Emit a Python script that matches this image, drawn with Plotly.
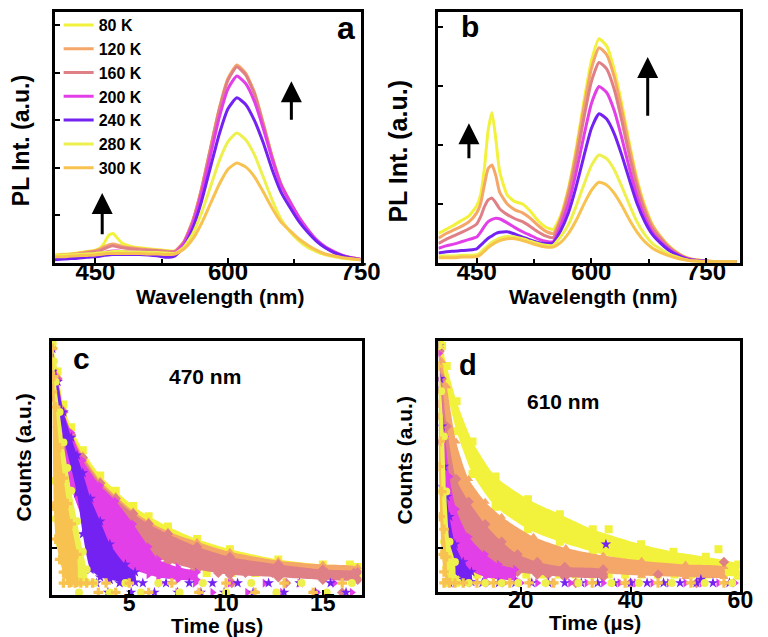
import plotly.graph_objects as go

W, H = 768, 637

TEMPS = ['80 K', '120 K', '160 K', '200 K', '240 K', '280 K', '300 K']
COLORS = ['#f2f23c', '#f5a76a', '#df7f86', '#e23fe8', '#7322f2', '#eef04e', '#f7c24f']
SYMBOLS = ['square', 'triangle-up', 'diamond', 'triangle-right', 'star', 'circle', 'cross']

# ---------------- Panel a: PL spectra (wavelength nm) ----------------
WL_A = [404, 410, 420, 430, 440, 450, 455, 460, 465, 470, 475, 480, 490, 500, 510, 520, 530,
        540, 550, 560, 570, 580, 590, 600, 610, 620, 630, 640, 650, 660, 670, 680, 690, 700,
        710, 720, 730, 740, 750]
PL_A_80K = [0.17, 0.18, 0.19, 0.21, 0.24, 0.27, 0.31, 0.42, 0.58, 0.62, 0.52, 0.42, 0.35, 0.32, 0.30, 0.28, 0.26,
            0.25, 0.44, 0.88, 1.55, 2.39, 3.22, 3.86, 4.14, 3.97, 3.57, 2.92, 2.23, 1.66, 1.29, 0.96, 0.69, 0.47,
            0.33, 0.23, 0.15, 0.11, 0.08]
PL_A_120K = [0.16, 0.17, 0.18, 0.20, 0.23, 0.26, 0.29, 0.34, 0.38, 0.40, 0.38, 0.35, 0.32, 0.30, 0.28, 0.27, 0.25,
             0.25, 0.44, 0.88, 1.56, 2.40, 3.24, 3.88, 4.16, 3.99, 3.58, 2.93, 2.24, 1.66, 1.30, 0.97, 0.70, 0.48,
             0.33, 0.23, 0.15, 0.11, 0.08]
PL_A_160K = [0.14, 0.15, 0.16, 0.18, 0.21, 0.24, 0.26, 0.30, 0.34, 0.36, 0.34, 0.32, 0.30, 0.28, 0.27, 0.26, 0.24,
             0.24, 0.44, 0.87, 1.54, 2.38, 3.21, 3.84, 4.12, 3.95, 3.55, 2.90, 2.22, 1.65, 1.28, 0.96, 0.69, 0.47,
             0.33, 0.23, 0.15, 0.11, 0.08]
PL_A_200K = [0.10, 0.11, 0.12, 0.14, 0.16, 0.18, 0.20, 0.22, 0.24, 0.25, 0.25, 0.24, 0.23, 0.23, 0.22, 0.21, 0.19,
             0.21, 0.41, 0.82, 1.46, 2.25, 3.05, 3.66, 3.93, 3.77, 3.39, 2.82, 2.18, 1.64, 1.29, 0.97, 0.71, 0.49,
             0.34, 0.24, 0.16, 0.11, 0.08]
PL_A_240K = [0.07, 0.08, 0.09, 0.10, 0.12, 0.13, 0.14, 0.16, 0.17, 0.18, 0.18, 0.18, 0.18, 0.18, 0.17, 0.15, 0.12,
             0.15, 0.34, 0.72, 1.29, 2.00, 2.70, 3.24, 3.47, 3.33, 2.99, 2.52, 1.96, 1.49, 1.17, 0.88, 0.65, 0.46,
             0.32, 0.22, 0.15, 0.10, 0.07]
PL_A_280K = [0.16, 0.16, 0.17, 0.18, 0.19, 0.20, 0.21, 0.22, 0.23, 0.24, 0.24, 0.24, 0.23, 0.23, 0.22, 0.22, 0.21,
             0.20, 0.33, 0.61, 1.05, 1.59, 2.14, 2.55, 2.73, 2.59, 2.27, 1.80, 1.32, 0.92, 0.66, 0.47, 0.33, 0.24,
             0.17, 0.13, 0.10, 0.08, 0.07]
PL_A_300K = [0.13, 0.13, 0.14, 0.15, 0.16, 0.17, 0.18, 0.19, 0.20, 0.20, 0.20, 0.20, 0.20, 0.20, 0.19, 0.19, 0.18,
             0.19, 0.29, 0.50, 0.83, 1.24, 1.65, 1.97, 2.10, 2.02, 1.81, 1.49, 1.15, 0.86, 0.68, 0.51, 0.38, 0.27,
             0.19, 0.15, 0.11, 0.09, 0.07]

# ---------------- Panel b: PL spectra ----------------
WL_B = [400, 410, 420, 430, 440, 450, 455, 460, 465, 470, 475, 480, 490, 500, 510, 520, 530, 540, 550,
        560, 570, 580, 590, 600, 610, 620, 630, 640, 650, 660, 670, 680, 690, 700, 710, 720, 730, 740, 750,
        760, 770, 780, 790]
PL_B_80K = [0.50, 0.57, 0.64, 0.72, 0.80, 0.97, 1.15, 1.60, 2.25, 2.55, 2.10, 1.55, 1.15, 1.04, 1.00, 0.88, 0.72, 0.61, 0.57,
            0.81, 1.27, 1.93, 2.72, 3.42, 3.80, 3.68, 3.27, 2.68, 2.01, 1.41, 0.97, 0.65, 0.46, 0.31, 0.20, 0.12, 0.07,
            0.05, 0.035, 0.025, 0.02, 0.02, 0.02]
PL_B_120K = [0.42, 0.50, 0.56, 0.62, 0.70, 0.85, 1.00, 1.32, 1.60, 1.66, 1.48, 1.20, 1.00, 0.90, 0.85, 0.76, 0.64, 0.54, 0.50,
             0.77, 1.23, 1.87, 2.62, 3.29, 3.65, 3.53, 3.15, 2.58, 1.94, 1.36, 0.93, 0.63, 0.45, 0.30, 0.19, 0.11, 0.07,
             0.045, 0.034, 0.025, 0.02, 0.02, 0.02]
PL_B_160K = [0.33, 0.40, 0.46, 0.52, 0.58, 0.66, 0.78, 0.95, 1.07, 1.10, 1.02, 0.92, 0.82, 0.75, 0.70, 0.62, 0.53, 0.46, 0.43,
             0.73, 1.14, 1.74, 2.44, 3.07, 3.40, 3.29, 2.94, 2.40, 1.80, 1.27, 0.87, 0.58, 0.42, 0.28, 0.18, 0.11, 0.06,
             0.045, 0.03, 0.025, 0.02, 0.02, 0.02]
PL_B_200K = [0.25, 0.29, 0.32, 0.36, 0.40, 0.44, 0.52, 0.62, 0.70, 0.74, 0.76, 0.75, 0.68, 0.60, 0.53, 0.47, 0.41, 0.37, 0.36,
             0.64, 1.00, 1.53, 2.14, 2.70, 2.99, 2.89, 2.58, 2.11, 1.59, 1.12, 0.77, 0.52, 0.37, 0.25, 0.16, 0.10, 0.06,
             0.04, 0.03, 0.025, 0.02, 0.02, 0.02]
PL_B_240K = [0.17, 0.19, 0.20, 0.21, 0.22, 0.24, 0.30, 0.36, 0.42, 0.46, 0.50, 0.52, 0.53, 0.49, 0.44, 0.39, 0.35, 0.33, 0.34,
             0.55, 0.85, 1.29, 1.80, 2.28, 2.53, 2.44, 2.19, 1.82, 1.40, 1.00, 0.70, 0.48, 0.34, 0.23, 0.15, 0.09, 0.05,
             0.04, 0.03, 0.025, 0.02, 0.02, 0.02]
PL_B_280K = [0.12, 0.12, 0.12, 0.13, 0.13, 0.14, 0.18, 0.24, 0.30, 0.35, 0.39, 0.42, 0.45, 0.44, 0.41, 0.37, 0.33, 0.30, 0.30,
             0.45, 0.65, 0.96, 1.32, 1.65, 1.83, 1.77, 1.58, 1.29, 0.98, 0.69, 0.48, 0.33, 0.24, 0.16, 0.11, 0.07, 0.04,
             0.03, 0.02, 0.02, 0.02, 0.02, 0.02]
PL_B_300K = [0.09, 0.09, 0.09, 0.10, 0.10, 0.11, 0.14, 0.20, 0.26, 0.31, 0.35, 0.38, 0.41, 0.41, 0.38, 0.34, 0.30, 0.27, 0.27,
             0.35, 0.50, 0.72, 0.99, 1.23, 1.37, 1.32, 1.18, 0.97, 0.73, 0.52, 0.36, 0.25, 0.18, 0.13, 0.09, 0.06, 0.04,
             0.03, 0.02, 0.02, 0.02, 0.02, 0.02]

PL_A = [PL_A_80K, PL_A_120K, PL_A_160K, PL_A_200K, PL_A_240K, PL_A_280K, PL_A_300K]
PL_B = [PL_B_80K, PL_B_120K, PL_B_160K, PL_B_200K, PL_B_240K, PL_B_280K, PL_B_300K]

# ---------------- Panel c: decay at 470 nm (time us, normalised counts) ----------------
C_TIME = [
    [1.03, 1.3, 1.6, 2.0, 2.6, 3.5, 4.3, 5.2, 6.0, 7.0, 8.5, 10.2, 12.7, 15.0, 16.8],
    [1.03, 1.3, 1.6, 2.0, 2.6, 3.5, 4.3, 5.2, 6.0, 7.0, 8.5, 10.2, 12.7, 15.0, 16.8],
    [1.03, 1.3, 1.6, 2.0, 2.6, 3.5, 4.3, 5.2, 6.0, 7.0, 8.5, 10.2, 12.7, 15.0, 16.8],
    [1.03, 1.3, 1.6, 2.0, 2.6, 3.5, 4.3, 5.2, 6.0, 6.5, 7.5, 8.5],
    [1.03, 1.3, 1.6, 2.0, 2.3, 2.6, 3.0, 3.5, 4.0, 4.8, 5.3],
    [1.03, 1.1, 1.2, 1.4, 1.6, 1.8, 2.0, 2.3, 2.6, 2.8],
    [1.03, 1.1, 1.2, 1.4, 1.6, 1.8, 2.0, 2.3],
]
C_HIGH = [
    [0.99, 0.88, 0.75, 0.66, 0.57, 0.47, 0.41, 0.35, 0.31, 0.27, 0.22, 0.18, 0.14, 0.12, 0.11],
    [0.98, 0.86, 0.73, 0.64, 0.55, 0.45, 0.39, 0.33, 0.29, 0.25, 0.21, 0.17, 0.135, 0.12, 0.11],
    [0.97, 0.85, 0.72, 0.63, 0.54, 0.44, 0.38, 0.32, 0.28, 0.24, 0.19, 0.15, 0.12, 0.10, 0.09],
    [0.97, 0.85, 0.72, 0.64, 0.53, 0.43, 0.37, 0.28, 0.19, 0.14, 0.11, 0.09],
    [0.97, 0.84, 0.72, 0.62, 0.55, 0.48, 0.38, 0.29, 0.20, 0.12, 0.09],
    [0.99, 0.92, 0.84, 0.72, 0.60, 0.50, 0.41, 0.29, 0.17, 0.10],
    [0.97, 0.86, 0.74, 0.58, 0.46, 0.36, 0.28, 0.16],
]
C_LOW = [
    [0.80, 0.70, 0.60, 0.52, 0.44, 0.37, 0.32, 0.27, 0.23, 0.20, 0.16, 0.12, 0.09, 0.08, 0.07],
    [0.80, 0.68, 0.57, 0.48, 0.39, 0.31, 0.26, 0.21, 0.17, 0.14, 0.11, 0.09, 0.08, 0.07, 0.07],
    [0.78, 0.66, 0.55, 0.46, 0.37, 0.29, 0.24, 0.19, 0.16, 0.13, 0.10, 0.08, 0.07, 0.06, 0.06],
    [0.80, 0.65, 0.52, 0.42, 0.30, 0.20, 0.14, 0.10, 0.08, 0.07, 0.06, 0.06],
    [0.88, 0.74, 0.62, 0.50, 0.40, 0.24, 0.10, 0.07, 0.06, 0.05, 0.05],
    [0.90, 0.45, 0.30, 0.20, 0.13, 0.09, 0.07, 0.05, 0.05, 0.05],
    [0.80, 0.35, 0.22, 0.14, 0.09, 0.07, 0.05, 0.05],
]
C_FLOOR_T = [
    [9.0, 10.3, 11.5, 12.8, 14.0, 15.3, 16.6, 16.4],
    [10.8, 12.2, 13.6, 15.0, 16.3],
    [8.2, 9.6, 11.0, 12.4, 13.8, 15.2, 16.6, 10.3, 13.1, 16.0],
    [6.6, 7.5, 8.4, 9.3, 10.2, 11.1, 12.0, 12.9, 13.8, 14.7, 15.6, 16.5],
    [3.3, 3.9, 4.5, 5.1, 5.7, 6.3, 6.9, 7.5, 8.1, 8.7, 9.3, 9.9, 10.6, 11.4, 12.2, 13.0, 13.8, 14.6, 15.4, 16.2],
    [2.4, 3.2, 4.0, 4.8, 5.6, 6.5, 7.6, 8.8, 10.0, 11.3, 12.6, 13.9, 15.2, 16.5],
    [1.6, 1.9, 2.2, 2.5, 2.8, 3.1, 3.4, 3.8, 4.3, 5.0, 6.0, 7.2, 8.6, 10.0, 11.5, 13.0, 14.5, 16.0],
]
C_FLOOR_Y = [
    [0.087, 0.087, 0.087, 0.087, 0.087, 0.087, 0.087, 0.12],
    [0.087, 0.087, 0.087, 0.087, 0.087],
    [0.087, 0.087, 0.087, 0.087, 0.087, 0.087, 0.087, 0.047, 0.047, 0.01],
    [0.047, 0.01, 0.047, 0.01, 0.047, 0.01, 0.047, 0.01, 0.047, 0.01, 0.047, 0.01],
    [0.047, 0.01, 0.047, 0.01, 0.047, 0.01, 0.047, 0.01, 0.047, 0.01, 0.047, 0.01, 0.047, 0.01, 0.047, 0.01,
     0.047, 0.01, 0.047, 0.01],
    [0.01, 0.047, 0.01, 0.047, 0.01, 0.047, 0.01, 0.047, 0.01, 0.047, 0.01, 0.047, 0.01, 0.047],
    [0.047, 0.047, 0.047, 0.047, 0.047, 0.047, 0.01, 0.047, 0.01, 0.047, 0.01, 0.047, 0.01, 0.047, 0.01, 0.047,
     0.01, 0.047],
]

# ---------------- Panel d: decay at 610 nm ----------------
D_TIME = [
    [5.3, 5.65, 6.5, 8.3, 11.2, 15.4, 21.3, 27.1, 33.1, 41.9, 47.8, 53.7, 59.6],
    [5.2, 5.6, 6.5, 8.2, 10.5, 13.5, 16.5, 22.3, 28.2, 35, 42, 50, 57],
    [5.2, 5.6, 6.5, 8.2, 10.5, 13.5, 16.5, 19.4, 23, 28, 35],
    [5.1, 5.5, 6.2, 7.0, 8.2, 10.5, 13.5, 16, 19],
    [5.05, 5.3, 5.6, 6.0, 6.5, 7.0, 8.0, 9.5, 11],
    [5.05, 5.5, 6.0, 6.4, 7.0, 8.0],
    [5.05, 5.3, 5.6, 6.0, 6.5],
]
D_HIGH = [
    [1.0, 0.98, 0.90, 0.76, 0.60, 0.46, 0.37, 0.31, 0.25, 0.19, 0.16, 0.14, 0.11],
    [0.98, 0.92, 0.82, 0.60, 0.45, 0.36, 0.30, 0.22, 0.175, 0.145, 0.125, 0.11, 0.10],
    [0.96, 0.85, 0.66, 0.45, 0.36, 0.27, 0.20, 0.15, 0.12, 0.10, 0.09],
    [0.95, 0.80, 0.62, 0.46, 0.33, 0.22, 0.15, 0.11, 0.09],
    [0.98, 0.85, 0.66, 0.50, 0.38, 0.30, 0.19, 0.12, 0.08],
    [0.98, 0.80, 0.62, 0.40, 0.20, 0.12],
    [0.90, 0.60, 0.40, 0.25, 0.14],
]
D_LOW = [
    [0.96, 0.90, 0.80, 0.64, 0.47, 0.34, 0.25, 0.20, 0.16, 0.11, 0.09, 0.075, 0.065],
    [0.80, 0.70, 0.58, 0.42, 0.30, 0.22, 0.17, 0.12, 0.09, 0.075, 0.065, 0.06, 0.06],
    [0.75, 0.60, 0.45, 0.30, 0.21, 0.14, 0.10, 0.08, 0.07, 0.06, 0.06],
    [0.70, 0.50, 0.35, 0.24, 0.15, 0.09, 0.06, 0.05, 0.05],
    [0.80, 0.60, 0.42, 0.30, 0.20, 0.14, 0.08, 0.05, 0.04],
    [0.70, 0.40, 0.20, 0.10, 0.06, 0.05],
    [0.50, 0.30, 0.15, 0.08, 0.05],
]
D_FLOOR_T = [
    [9, 12, 15, 18, 21, 24, 27, 30, 33, 36, 39, 42, 45, 48, 51, 54, 57, 59.5, 36.0, 46.5, 56.0],
    [30, 38, 46, 52, 58],
    [25, 30, 35, 40, 45, 52, 57],
    [8, 11, 14, 17, 20, 23, 26, 29, 32, 35, 38, 41, 44, 47, 50, 53, 56, 59],
    [7, 10, 13, 16, 19, 22, 25, 28, 31, 34, 37, 40, 43, 46, 49, 52, 55, 58, 35.5, 52.8],
    [6.5, 8.5, 10.5, 13.5, 16.5, 19.5, 24.5, 30.5, 36.5, 41.5, 47.5, 53.5, 58.5],
    [6.0, 7.0, 8.0, 9.5, 12, 15, 18, 21.5, 26, 33, 39, 45, 51, 57],
]
D_FLOOR_Y = [
    [0.07, 0.07, 0.07, 0.07, 0.07, 0.07, 0.07, 0.07, 0.07, 0.07, 0.07, 0.07, 0.07, 0.07, 0.07, 0.07, 0.07, 0.07,
     0.25, 0.13, 0.17],
    [0.036, 0.036, 0.036, 0.036, 0.036],
    [0.07, 0.036, 0.07, 0.036, 0.07, 0.036, 0.12],
    [0.036, 0.036, 0.036, 0.036, 0.036, 0.036, 0.036, 0.036, 0.036, 0.036, 0.036, 0.036, 0.036, 0.036, 0.036,
     0.036, 0.036, 0.036],
    [0.036, 0.036, 0.036, 0.036, 0.036, 0.036, 0.036, 0.036, 0.036, 0.036, 0.036, 0.036, 0.036, 0.036, 0.036,
     0.036, 0.036, 0.036, 0.19, 0.05],
    [0.036, 0.036, 0.036, 0.036, 0.036, 0.036, 0.036, 0.036, 0.036, 0.036, 0.036, 0.036, 0.036],
    [0.036, 0.036, 0.036, 0.036, 0.036, 0.036, 0.036, 0.036, 0.036, 0.036, 0.036, 0.036, 0.036, 0.036],
]

FONT = 'Liberation Sans, Arial, sans-serif'

fig = go.Figure()

# spectra
for i in range(7):
    fig.add_trace(go.Scatter(x=WL_A, y=PL_A[i], mode='lines', name=TEMPS[i],
                             line=dict(color=COLORS[i], width=3, shape='spline', smoothing=0.5),
                             xaxis='x', yaxis='y', showlegend=True, hoverinfo='skip'))
for i in range(7):
    fig.add_trace(go.Scatter(x=WL_B, y=PL_B[i], mode='lines', name=TEMPS[i],
                             line=dict(color=COLORS[i], width=3, shape='spline', smoothing=0.5),
                             xaxis='x2', yaxis='y2', showlegend=False, hoverinfo='skip'))


def add_decay(T, HI, LO, FT, FY, xa, ya):
    for i in range(7):
        t, hi, lo = T[i], HI[i], LO[i]
        fig.add_trace(go.Scatter(x=t + t[::-1], y=hi + lo[::-1], mode='lines', fill='toself',
                                 fillcolor=COLORS[i], line=dict(width=0, shape='spline', smoothing=0.6),
                                 xaxis=xa, yaxis=ya, showlegend=False, hoverinfo='skip'))
        fig.add_trace(go.Scatter(x=t + t + FT[i], y=hi + lo + FY[i], mode='markers',
                                 marker=dict(symbol=SYMBOLS[i], size=8, color=COLORS[i], line=dict(width=0)),
                                 xaxis=xa, yaxis=ya, showlegend=False, hoverinfo='skip', cliponaxis=True))


add_decay(C_TIME, C_HIGH, C_LOW, C_FLOOR_T, C_FLOOR_Y, 'x3', 'y3')
add_decay(D_TIME, D_HIGH, D_LOW, D_FLOOR_T, D_FLOOR_Y, 'x4', 'y4')


def dx(px):
    return px / W


def dy(py):
    return 1 - py / H


tickfont = dict(family=FONT, size=24, color='black', weight='bold')
tickfont_cd = dict(family=FONT, size=23, color='black', weight='bold')
common = dict(showline=True, linewidth=3, linecolor='black', mirror=True, showgrid=False, zeroline=False,
              ticks='inside', ticklen=5, tickwidth=2, tickcolor='black')
minor = dict(tickvals=[525, 675], ticks='inside', ticklen=4, tickwidth=2, tickcolor='black')

fig.update_layout(
    width=W, height=H, margin=dict(l=0, r=0, t=0, b=0),
    paper_bgcolor='white', plot_bgcolor='white',
    xaxis=dict(domain=[dx(48), dx(362)], range=[404, 750], tickvals=[450, 600, 750], minor=minor,
               anchor='y', ticklabelstandoff=-15, tickfont=tickfont, **common),
    yaxis=dict(domain=[dy(255), dy(4)], range=[0, 5.273], tick0=0, dtick=1, showticklabels=False,
               anchor='x', **common),
    xaxis2=dict(domain=[dx(442), dx(752)], range=[400, 795], tickvals=[450, 600, 750], minor=minor,
                anchor='y2', ticklabelstandoff=-15, tickfont=tickfont, **common),
    yaxis2=dict(domain=[dy(255), dy(4)], range=[0, 4.254], tick0=0, dtick=1, showticklabels=False,
                anchor='x2', **common),
    xaxis3=dict(domain=[dx(45), dx(363)], range=[1, 17], tickvals=[5, 10, 15],
                anchor='y3', ticklabelstandoff=-15, tickfont=tickfont_cd, **common),
    yaxis3=dict(domain=[dy(587), dy(333)], range=[0, 1], tickvals=[0.185], showticklabels=False,
                anchor='x3', **common),
    xaxis4=dict(domain=[dx(442), dx(752)], range=[5, 60], tickvals=[20, 40, 60],
                anchor='y4', ticklabelstandoff=-15, tickfont=tickfont_cd, **common),
    yaxis4=dict(domain=[dy(584), dy(333)], range=[0, 1], tickvals=[0.175], showticklabels=False,
                anchor='x4', **common),
    legend=dict(x=dx(52), y=dy(0), xanchor='left', yanchor='top', bgcolor='rgba(0,0,0,0)',
                font=dict(family=FONT, size=16, color='black', weight='bold'), tracegroupgap=0,
                itemwidth=30),
    showlegend=True,
)

ann = []


def text(px, py, s, size, angle=0):
    ann.append(dict(x=dx(px), y=dy(py), xref='paper', yref='paper', text=s, showarrow=False,
                    xanchor='center', yanchor='middle', textangle=angle,
                    font=dict(family=FONT, size=size, color='black', weight='bold')))


text(217.5, 288, 'Wavelength (nm)', 21)
text(600.7, 288, 'Wavelength (nm)', 21)
text(14, 132.5, 'PL Int. (a.u.)', 23, -90)
text(400, 143, 'PL Int. (a.u.)', 25, -90)
text(15, 450, 'Counts (a.u.)', 21, -90)
text(407, 452, 'Counts (a.u.)', 21, -90)
text(215, 617, 'Time (µs)', 21)
text(603, 614, 'Time (µs)', 21)
text(346.7, 20, 'a', 32)
text(474, 19, 'b', 30)
text(75.7, 351, 'c', 30)
text(472, 357, 'd', 29)
text(202.3, 368, '470 nm', 21)
text(569.7, 393, '610 nm', 21)


def arrow(xa, ya, x, y0, y1):
    ann.append(dict(x=x, y=y1, ax=x, ay=y0, xref=xa, yref=ya, axref=xa, ayref=ya, text='',
                    showarrow=True, arrowhead=2, arrowsize=1.4, arrowwidth=3, arrowcolor='black'))


arrow('x', 'y', 457.7, 0.57, 1.47)
arrow('x', 'y', 671.7, 2.98, 3.82)
arrow('x2', 'y2', 439.8, 1.75, 2.37)
arrow('x2', 'y2', 673.7, 2.47, 3.49)

fig.update_layout(annotations=ann)

fig.write_html('out.html')
